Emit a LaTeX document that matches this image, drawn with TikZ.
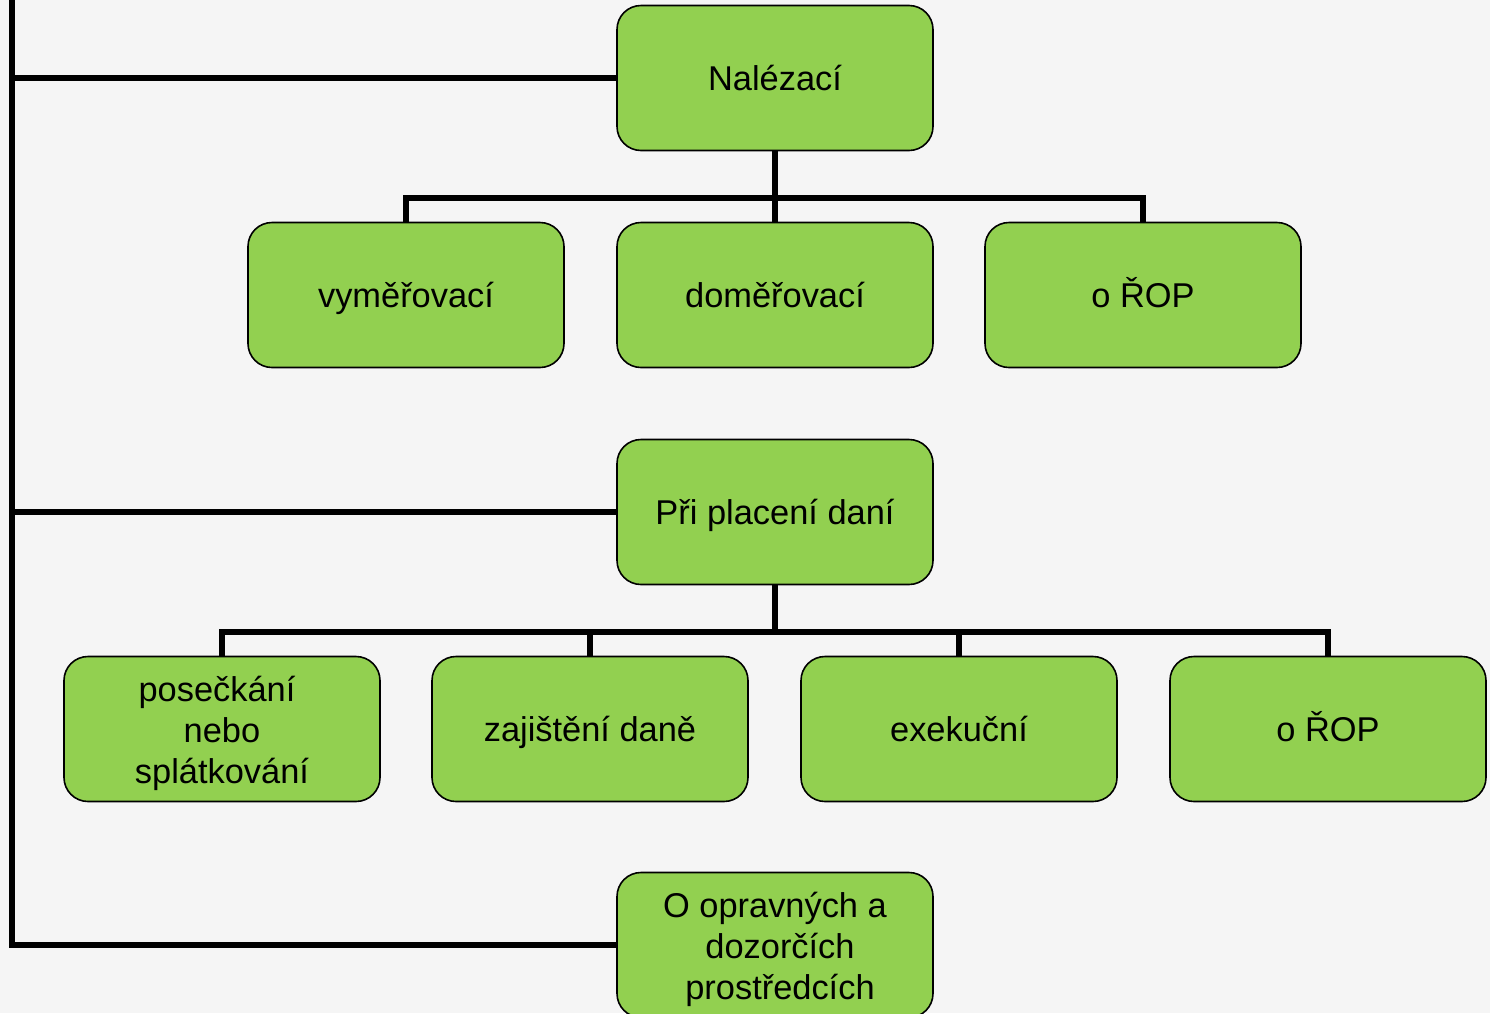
\documentclass[tikz,border=0pt]{standalone}
\usepackage{fontspec}
\setmainfont{Liberation Sans}
\definecolor{bg}{HTML}{F5F5F5}
\definecolor{boxgreen}{HTML}{92D050}
\tikzset{
  box/.style={draw=black, line width=0.8pt, fill=boxgreen, rounded corners=12pt,
    minimum width=158pt, minimum height=72.5pt, align=center, inner sep=2pt,
    font=\fontsize{17.2}{20.5}\selectfont},
  onebox/.style={box, text height=15pt, text depth=2.6pt},
  multibox/.style={box},
  conn/.style={draw=black, line width=3pt, line join=miter},
}
\newcommand{\lowtext}[1]{\raisebox{-2pt}[\height][\depth]{\parbox{150pt}{\centering #1}}}
\begin{document}
\begin{tikzpicture}[x=0.5pt, y=-0.5pt]
\fill[bg] (0,0) rectangle (1490,1013);
\useasboundingbox (0,0) rectangle (1490,1013);
\begin{scope}
\clip (0,0) rectangle (1490,1013);
% coordinates
\coordinate (ttop) at (12,-5);
\coordinate (bus1) at (775,198);
\coordinate (bus2) at (775,632);
% placeholder nodes for routing
\path node[box, draw=none, fill=none] (n1) at (775,78) {}
      node[box, draw=none, fill=none] (a1) at (406,295) {}
      node[box, draw=none, fill=none] (a2) at (775,295) {}
      node[box, draw=none, fill=none] (a3) at (1143,295) {}
      node[box, draw=none, fill=none] (n2) at (775,512) {}
      node[box, draw=none, fill=none] (b1) at (222,729) {}
      node[box, draw=none, fill=none] (b2) at (590,729) {}
      node[box, draw=none, fill=none] (b3) at (959,729) {}
      node[box, draw=none, fill=none] (b4) at (1328,729) {}
      node[box, draw=none, fill=none] (n3) at (775,945) {};
% connectors
\draw[conn] (ttop) |- (n3.west);
\draw[conn] (n1.west) -- (n1.west -| ttop);
\draw[conn] (n2.west) -- (n2.west -| ttop);
\draw[conn] (n1.south) -- (a2.north);
\draw[conn] (a1.north) |- (bus1) -| (a3.north);
\draw[conn] (n2.south) -- (bus2);
\draw[conn] (b1.north) |- (bus2) -| (b4.north);
\draw[conn] (b2.north) -- (b2.north |- bus2);
\draw[conn] (b3.north) -- (b3.north |- bus2);
% boxes
\node[onebox] (N1) at (n1) {Nalézací};
\node[onebox] (A1) at (a1) {vyměřovací};
\node[onebox] (A2) at (a2) {doměřovací};
\node[onebox] (A3) at (a3) {o ŘOP};
\node[onebox] (N2) at (n2) {Při placení daní};
\node[multibox] (B1) at (b1) {\lowtext{posečkání\hspace*{5pt}\null\\nebo\\splátkování}};
\node[onebox] (B2) at (b2) {zajištění daně};
\node[onebox] (B3) at (b3) {exekuční};
\node[onebox] (B4) at (b4) {o ŘOP};
\node[multibox] (N3) at (n3) {\lowtext{O opravných a\\\hspace*{5pt}dozorčích\\\hspace*{5pt}prostředcích}};
\end{scope}
\end{tikzpicture}
\end{document}
